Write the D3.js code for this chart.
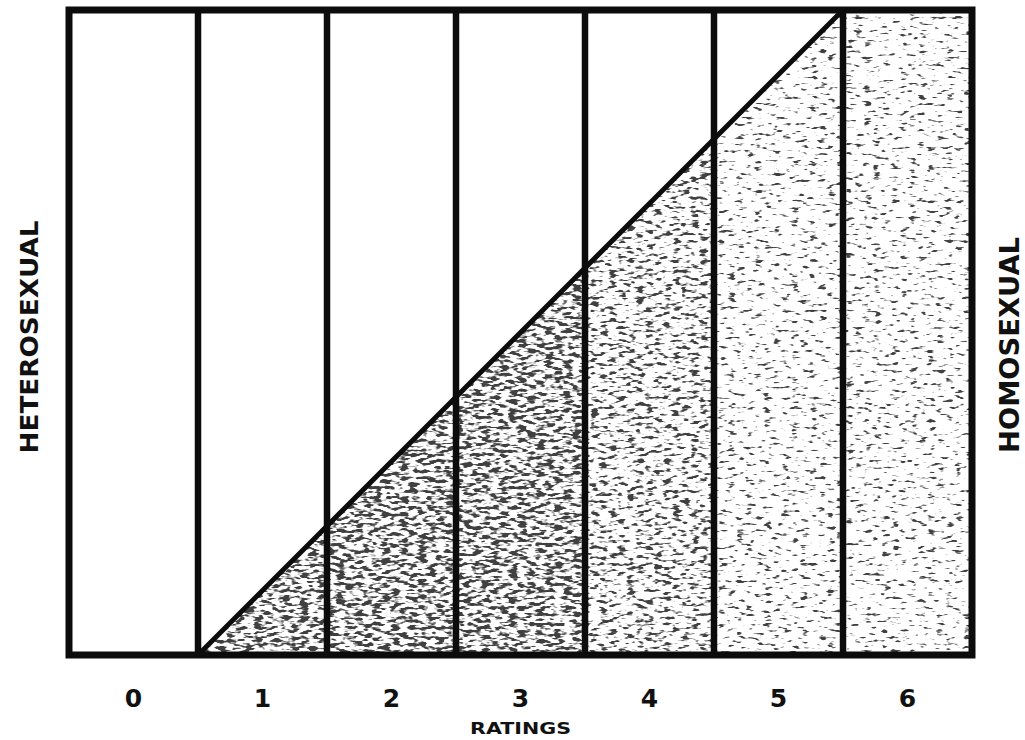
<!DOCTYPE html>
<html>
<head>
<meta charset="utf-8">
<script src="https://cdn.jsdelivr.net/npm/d3@7"></script>
<style>
  body { margin: 0; background: #fff; }
  svg { display: block; }
  text { font-family: "DejaVu Sans", sans-serif; font-weight: bold; fill: #111; }
</style>
</head>
<body>
<svg id="Scale"></svg>
<script>
    // Ratings on the heterosexual - homosexual scale
    var ratings = [0, 1, 2, 3, 4, 5, 6]
    var ratingLabels = ["0", "1", "2", "3", "4", "5", "6"]
    // homosexual share at the left and right edge of each rating column
    var homoStart = [0, 0, 0.2, 0.4, 0.6, 0.8, 1]
    var homoEnd   = [0, 0.2, 0.4, 0.6, 0.8, 1, 1]
    // how dense the stipple looks in each column (0 = blank)
    var stippleDensity = [0, 3, 3, 3, 2, 1, 1]

    var width = 1025;
    var height = 740;

    var margin = {
      top: 10,
      bottom: 85,
      left: 69,
      right: 53
    }
    var bodyWidth = width - margin.left - margin.right;
    var bodyHeight = height - margin.top - margin.bottom;

    var container = d3.select("#Scale")
      .attr("width", width)
      .attr("height", height)

    // x scale runs along column edges, 0..7
    var xScale = d3.scaleLinear()
      .domain([0, ratings.length])
      .range([margin.left, margin.left + bodyWidth])

    var yScale = d3.scaleLinear()
      .domain([0, 1])
      .range([margin.top + bodyHeight, margin.top])

    var defs = container.append("defs")

    // stipple filters, one per density level (threshold on noise)
    var thresholds = {1: 0.605, 2: 0.535, 3: 0.475}
    Object.keys(thresholds).forEach(level => {
      let f = defs.append("filter")
        .attr("id", "stipple" + level)
        .attr("x", 0).attr("y", 0).attr("width", 1).attr("height", 1)
        .attr("filterUnits", "objectBoundingBox")
      f.append("feTurbulence")
        .attr("type", "fractalNoise")
        .attr("baseFrequency", "0.11 0.3")
        .attr("numOctaves", 2)
        .attr("seed", 7 + +level)
        .attr("result", "noise")
      f.append("feColorMatrix")
        .attr("in", "noise")
        .attr("type", "matrix")
        .attr("values", "0 0 0 0 0.05  0 0 0 0 0.05  0 0 0 0 0.05  1 0 0 0 0")
        .attr("result", "ink")
      let ct = f.append("feComponentTransfer").attr("in", "ink").attr("result", "dots")
      ct.append("feFuncA")
        .attr("type", "linear")
        .attr("slope", 8)
        .attr("intercept", -8 * thresholds[level])
      f.append("feComposite")
        .attr("in", "dots")
        .attr("in2", "SourceGraphic")
        .attr("operator", "in")
    })

    // shaded (homosexual) part of every column
    var columns = ratings.map((r, i) => ({
      rating: r,
      start: homoStart[i],
      end: homoEnd[i],
      density: stippleDensity[i]
    }))

    container.append("g")
      .selectAll("polygon")
      .data(columns.filter(d => d.density > 0))
      .enter().append("polygon")
      .attr("points", d => [
          [xScale(d.rating), yScale(d.start)],
          [xScale(d.rating + 1), yScale(d.end)],
          [xScale(d.rating + 1), yScale(0)],
          [xScale(d.rating), yScale(0)]
        ].map(p => p.join(",")).join(" "))
      .attr("fill", "#000")
      .attr("filter", d => "url(#stipple" + d.density + ")")

    // the diagonal dividing line
    var diag = columns.filter(d => d.end > d.start)
    var line = d3.line()
      .x(d => d[0])
      .y(d => d[1])
    container.append("path")
      .attr("d", line([
        [xScale(diag[0].rating), yScale(diag[0].start)],
        [xScale(diag[diag.length - 1].rating + 1), yScale(diag[diag.length - 1].end)]
      ]))
      .attr("stroke", "#0c0c0c")
      .attr("stroke-width", 5)
      .attr("fill", "none")

    // column dividers
    container.append("g")
      .selectAll("line")
      .data(ratings.slice(1))
      .enter().append("line")
      .attr("x1", d => xScale(d))
      .attr("x2", d => xScale(d))
      .attr("y1", yScale(1))
      .attr("y2", yScale(0))
      .attr("stroke", "#0c0c0c")
      .attr("stroke-width", 6.5)

    // outer frame
    container.append("rect")
      .attr("x", xScale(0))
      .attr("y", yScale(1))
      .attr("width", xScale(ratings.length) - xScale(0))
      .attr("height", yScale(0) - yScale(1))
      .attr("fill", "none")
      .attr("stroke", "#0c0c0c")
      .attr("stroke-width", 7)

    // rating numbers
    container.append("g")
      .selectAll("text")
      .data(ratings)
      .enter().append("text")
      .attr("x", d => xScale(d + 0.5))
      .attr("y", 707)
      .attr("text-anchor", "middle")
      .attr("font-size", 25)
      .text((d, i) => ratingLabels[i])

    container.append("text")
      .attr("x", xScale(ratings.length / 2))
      .attr("y", 734)
      .attr("text-anchor", "middle")
      .attr("font-size", 16)
      .attr("textLength", 101)
      .attr("lengthAdjust", "spacingAndGlyphs")
      .text("RATINGS")

    container.append("text")
      .attr("transform", "translate(38," + 337 + ") rotate(-90)")
      .attr("text-anchor", "middle")
      .attr("font-size", 24)
      .attr("textLength", 233)
      .attr("lengthAdjust", "spacingAndGlyphs")
      .text("HETEROSEXUAL")

    container.append("text")
      .attr("transform", "translate(1019," + 345 + ") rotate(-90)")
      .attr("text-anchor", "middle")
      .attr("font-size", 26)
      .attr("textLength", 216)
      .attr("lengthAdjust", "spacingAndGlyphs")
      .text("HOMOSEXUAL")
</script>
</body>
</html>
